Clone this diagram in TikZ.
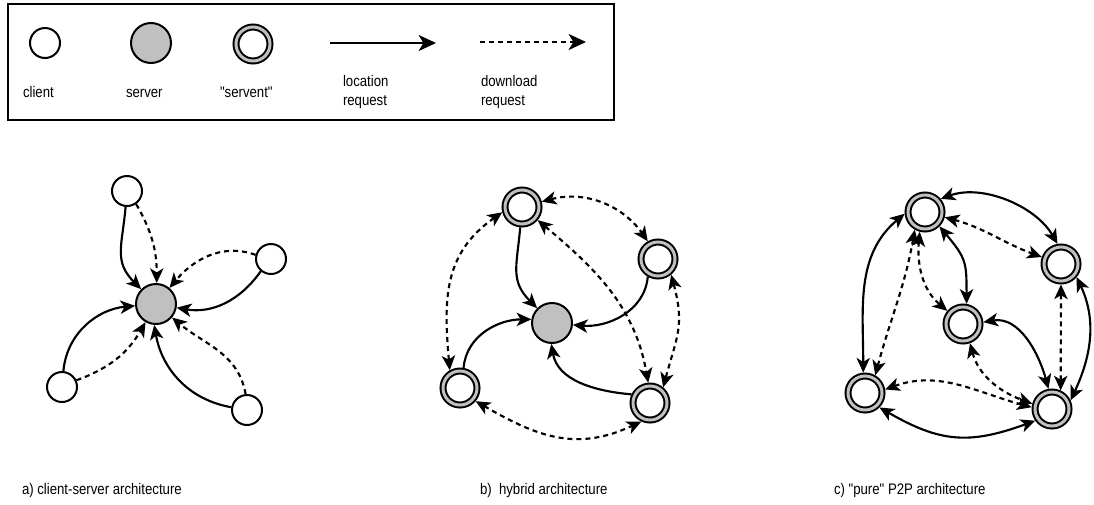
\documentclass[tikz,border=0pt]{standalone}
\usepackage{fontspec}
\setmainfont{Liberation Sans}[FakeStretch=0.86, Ligatures=TeXOff]
\usetikzlibrary{arrows.meta}

\definecolor{nodegray}{RGB}{192,192,192}

\begin{document}
\begin{tikzpicture}[x=0.75pt,y=0.75pt,
  every node/.style={inner sep=0pt, outer sep=0pt},
  >={Stealth[length=11pt,width=10pt,inset=3pt]},
  client/.style={circle, draw, line width=1.5pt, fill=white, minimum size=22.5pt, outer sep=0.75pt},
  server/.style={circle, draw, line width=1.5pt, fill=nodegray, minimum size=30pt, outer sep=0.75pt},
  servent/.style={circle, draw, line width=1.5pt, double=nodegray, double distance=2.25pt,
                  fill=white, minimum size=25.5pt, outer sep=2.6pt},
  loc/.style={line width=1.6pt, ->},
  dl/.style={loc, dash pattern=on 3.75pt off 3pt},
  loc2/.style={line width=1.6pt, <->},
  dl2/.style={loc2, dash pattern=on 3.75pt off 3pt},
  label/.style={font=\fontsize{11.5pt}{14.25pt}\selectfont},
  legtip/.style={-{Stealth[length=13pt,width=12pt,inset=3.5pt]}}
]
\useasboundingbox (0,0) rectangle (1094,-504);

% ---------- legend ----------
\draw[line width=1.9pt] (8,-4) rectangle (614,-120);
\node[client]  (lgc) at (45,-43) {};
\node[server]  (lgs) at (151,-43) {};
\node[servent] (lgv) at (253,-44) {};
\coordinate (la1) at (330,-43);
\coordinate (la2) at (436,-43);
\coordinate (ld1) at (480,-42);
\coordinate (ld2) at (586,-42);
\draw[line width=1.6pt, legtip] (la1) -- (la2);
\draw[line width=1.6pt, legtip, dash pattern=on 3.75pt off 3pt] (ld1) -- (ld2);
\node[label, anchor=base west] (tcl) at (23,-97) {client};
\node[label, anchor=base west] (tsv) at (126,-97) {server};
\node[label, anchor=base west] (tsn) at (220,-97) {"servent"};
\node[label, anchor=west, align=left] (tloc) at (343,-92.5) {location\\request};
\node[label, anchor=west, align=left] (tdl) at (481,-92.5) {download\\request};

% ---------- a) client-server ----------
\node[server] (sa) at (156,-304) {};
\node[client] (a1) at (127,-191) {};
\node[client] (a2) at (271,-259) {};
\node[client] (a3) at (62,-387) {};
\node[client] (a4) at (247,-410) {};

\draw[loc] (a1.265) to[out=265,in=135,looseness=1.2] (sa.135);
\draw[dl]  (a1.-55) to[out=-60,in=90] (sa.88);
\draw[dl]  (a2.165) to[out=160,in=50] (sa.50);
\draw[loc] (a2.230) to[out=235,in=-10] (sa.-10);
\draw[dl]  (a4.95)  to[out=100,in=-40] (sa.-40);
\draw[loc] (a4.170) to[out=170,in=-80] (sa.-95);
\draw[loc] (a3.85)  to[out=85,in=185] (sa.185);
\draw[dl]  (a3.25)  to[out=20,in=240] (sa.240);

% ---------- b) hybrid ----------
\node[server]  (sb) at (552,-323) {};
\node[servent] (bT) at (522,-207) {};
\node[servent] (bR) at (658,-259) {};
\node[servent] (bL) at (460,-388) {};
\node[servent] (bB) at (650,-403) {};

\draw[loc] (bT.265) to[out=265,in=135,looseness=1.2] (sb.135);
\draw[loc] (bR.240) to[out=265,in=-5] (sb.-5);
\draw[loc] (bB.155) to[out=175,in=-80] (sb.-92);
\draw[loc] (bL.80)  to[out=85,in=180] (sb.170);

\draw[dl2] (bT.15)  to[out=15,in=125] (bR.120);
\draw[dl2] (bT.195) to[out=215,in=95,looseness=1.1] (bL.120);
\draw[dl2] (bR.-50) to[out=-75,in=75,looseness=1.2] (bB.50);
\draw[dl2] (bL.-40) to[out=-30,in=205,looseness=1.1] (bB.245);
\draw[dl2] (bT.-40) to[out=-40,in=100] (bB.95);

% ---------- c) pure P2P ----------
\node[servent] (cT) at (925,-212) {};
\node[servent] (cR) at (1061,-264) {};
\node[servent] (cC) at (963,-324) {};
\node[servent] (cL) at (865,-393) {};
\node[servent] (cB) at (1052,-409) {};

\draw[loc2] (cT.40)  to[out=20,in=120,looseness=0.9] (cR.100);
\draw[loc2] (cT.185) to[out=220,in=90] (cL.95);
\draw[loc2] (cR.-40) to[out=-65,in=65] (cB.25);
\draw[loc2] (cL.-45) to[out=-30,in=200,looseness=1.15] (cB.215);
\draw[loc2] (cT.-45) to[out=-50,in=90,looseness=1.3] (cC.80);
\draw[loc2] (cC.5)   to[out=10,in=105] (cB.100);

\draw[dl2] (cT.-15) to[out=-15,in=160] (cR.160);
\draw[dl2] (cT.255) to[out=265,in=140] (cC.140);
\draw[dl2] (cT.240) to[out=260,in=75] (cL.60);
\draw[dl2] (cR.270) -- (cB.65);
\draw[dl2] (cC.-70) to[out=-75,in=160] (cB.165);
\draw[dl2] (cL.10)  to[out=20,in=165] (cB.175);

% ---------- captions ----------
\node[label, anchor=base west] (capa) at (22,-494) {a) client-server architecture};
\node[label, anchor=base west] (capb) at (480,-494) {b)\ \ hybrid architecture};
\node[label, anchor=base west] (capc) at (834,-494) {c) "pure" P2P architecture};
\end{tikzpicture}
\end{document}
